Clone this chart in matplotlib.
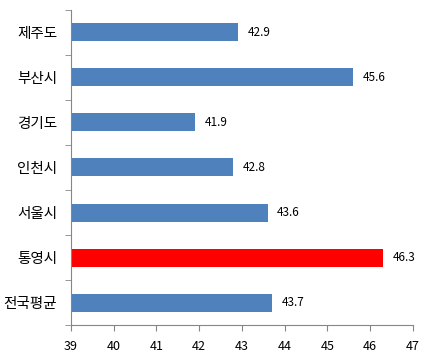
import numpy as np
import matplotlib
matplotlib.use("Agg")
import matplotlib.pyplot as plt
from matplotlib.ticker import FixedLocator

plt.rcParams["font.family"] = ["Noto Sans CJK KR", "DejaVu Sans"]

# 데이터 (위에서 아래 순서)
categories = ["제주도", "부산시", "경기도", "인천시", "서울시", "통영시", "전국평균"]
values = [42.9, 45.6, 41.9, 42.8, 43.6, 46.3, 43.7]
highlight = "통영시"
x_ticks = [39, 40, 41, 42, 43, 44, 45, 46, 47]

BLUE = "#4F81BD"
RED = "#FF0000"
AXIS = "#868686"

fig = plt.figure(figsize=(4.35, 3.56), dpi=100)
ax = fig.add_axes([0.163, 0.087, 0.786, 0.885])

y = np.arange(len(categories))
colors = [RED if c == highlight else BLUE for c in categories]
ax.barh(y, np.array(values) - x_ticks[0], left=x_ticks[0], height=0.4, color=colors)

for yi, v in zip(y, values):
    ax.annotate(f"{v}", (v, yi), xytext=(7, 0), textcoords="offset points",
                va="center", ha="left", fontsize=8.5, color="black")

ax.set_xlim(x_ticks[0], x_ticks[-1])
ax.set_ylim(len(categories) - 0.5, -0.5)
ax.set_xticks(x_ticks)
ax.set_yticks(y)
ax.set_yticklabels(categories)
ax.yaxis.set_minor_locator(FixedLocator(np.arange(-0.5, len(categories), 1.0)))
ax.tick_params(axis="y", which="major", length=0, pad=10, labelsize=10.5)
ax.tick_params(axis="y", which="minor", length=4, color=AXIS, direction="out")
ax.tick_params(axis="x", length=4, color=AXIS, direction="out", labelsize=9, pad=7)

for s in ["top", "right"]:
    ax.spines[s].set_visible(False)
for s in ["left", "bottom"]:
    ax.spines[s].set_color(AXIS)

fig.savefig("out.png", dpi=100, facecolor="white")
